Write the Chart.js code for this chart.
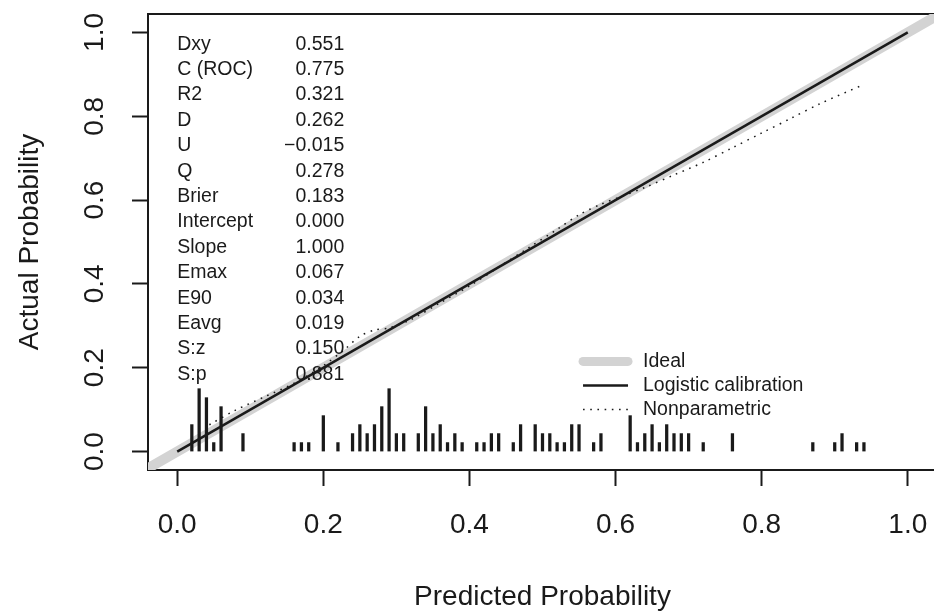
<!DOCTYPE html>
<html>
<head>
<meta charset="utf-8">
<title>Calibration plot</title>
<script src="https://cdn.jsdelivr.net/npm/chart.js@4.4.1/dist/chart.umd.min.js"></script>
<style>
  html, body { margin: 0; padding: 0; background: #fff; overflow: hidden; }
  #wrap { width: 940px; height: 611px; }
</style>
</head>
<body>
<div id="wrap"><canvas id="calChart" width="940" height="611"></canvas></div>
<script>
'use strict';

// ─────────────────────────────────────────────
// DATA
// ─────────────────────────────────────────────
const tickValues = [0, 0.2, 0.4, 0.6, 0.8, 1.0];

// spike histogram of predicted probabilities (bin centre, count)
const spikeX = [0.02, 0.03, 0.04, 0.05, 0.06, 0.09, 0.16, 0.17, 0.18, 0.20,
  0.22, 0.24, 0.25, 0.26, 0.27, 0.28, 0.29, 0.30, 0.31, 0.33,
  0.34, 0.35, 0.36, 0.37, 0.38, 0.39, 0.41, 0.42, 0.43, 0.44,
  0.46, 0.47, 0.49, 0.50, 0.51, 0.52, 0.53, 0.54, 0.55, 0.57,
  0.58, 0.62, 0.63, 0.64, 0.65, 0.66, 0.67, 0.68, 0.69, 0.70,
  0.72, 0.76, 0.87, 0.90, 0.91, 0.93, 0.94];
const spikeCount = [3, 7, 6, 1, 5, 2, 1, 1, 1, 4,
  1, 2, 3, 2, 3, 5, 7, 2, 2, 2,
  5, 2, 3, 1, 2, 1, 1, 1, 2, 2,
  1, 3, 3, 2, 2, 1, 1, 3, 3, 1,
  2, 4, 1, 2, 3, 1, 3, 2, 2, 2,
  1, 2, 1, 1, 2, 1, 1];
const spikeMaxHeight = 0.15;

// ideal and logistic calibration lines
const idealX = [-0.04, 1.04];
const idealY = [-0.04, 1.04];
const logisticX = [0, 1];
const logisticY = [0, 1];

// nonparametric (lowess) calibration curve
const npX = [0.044, 0.08, 0.12, 0.16, 0.20, 0.23, 0.25, 0.27, 0.29, 0.32,
  0.36, 0.40, 0.44, 0.48, 0.52, 0.55, 0.58, 0.61, 0.64, 0.68,
  0.72, 0.76, 0.80, 0.84, 0.88, 0.94];
const npY = [0.064, 0.099, 0.131, 0.163, 0.205, 0.245, 0.275, 0.29, 0.295, 0.315,
  0.355, 0.395, 0.44, 0.485, 0.53, 0.565, 0.59, 0.61, 0.63, 0.66,
  0.69, 0.725, 0.76, 0.795, 0.83, 0.876];

// statistics block
const statNames = ['Dxy', 'C (ROC)', 'R2', 'D', 'U', 'Q', 'Brier', 'Intercept',
  'Slope', 'Emax', 'E90', 'Eavg', 'S:z', 'S:p'];
const statValues = ['0.551', '0.775', '0.321', '0.262', '\u22120.015', '0.278', '0.183',
  '0.000', '1.000', '0.067', '0.034', '0.019', '0.150', '0.881'];

const legendLabels = ['Ideal', 'Logistic calibration', 'Nonparametric'];

// ─────────────────────────────────────────────
// STYLE
// ─────────────────────────────────────────────
const FONT = "'Liberation Sans', Arial, Helvetica, sans-serif";
const INK = '#1a1a1a';
const IDEAL_GREY = '#d3d3d3';
const npDash = [1.6, 5.6];

const toPoints = (xs, ys) => xs.map((x, i) => ({ x, y: ys[i] }));
const unitPerCount = spikeMaxHeight / Math.max(...spikeCount);
const spikePoints = spikeX.map((x, i) => ({ x, y: spikeCount[i] * unitPerCount }));

// ─────────────────────────────────────────────
// ANNOTATIONS — box, stats text, legend
// ─────────────────────────────────────────────
const boxPlugin = {
  id: 'rBox',
  beforeDatasetsDraw(chart) {
    const { ctx, chartArea: a } = chart;
    ctx.save();
    ctx.strokeStyle = INK;
    ctx.lineWidth = 2;
    ctx.strokeRect(a.left, a.top, a.right - a.left, a.bottom - a.top);
    ctx.restore();
  },
};

const textPlugin = {
  id: 'rText',
  afterDatasetsDraw(chart) {
    const { ctx, scales: { x, y } } = chart;
    ctx.save();
    ctx.fillStyle = INK;
    ctx.font = '19.5px ' + FONT;
    ctx.textBaseline = 'middle';

    // stats block, top-left at (0, 0.99)
    const sx = x.getPixelForValue(0);
    const vx = sx + 167;
    let sy = y.getPixelForValue(0.99) + 7.5;
    statNames.forEach((name, i) => {
      ctx.textAlign = 'left';
      ctx.fillText(name, sx, sy);
      ctx.textAlign = 'right';
      ctx.fillText(statValues[i], vx, sy);
      sy += 25.4;
    });

    // legend, top-left at (0.55, 0.27)
    const lx = x.getPixelForValue(0.55) + 4;
    let ly = y.getPixelForValue(0.27) + 23;
    const styles = [
      { color: IDEAL_GREY, width: 9, dash: [], cap: 'round' },
      { color: INK, width: 2.5, dash: [], cap: 'butt' },
      { color: INK, width: 1.5, dash: npDash, cap: 'butt' },
    ];
    legendLabels.forEach((label, i) => {
      const s = styles[i];
      ctx.beginPath();
      ctx.strokeStyle = s.color;
      ctx.lineWidth = s.width;
      ctx.lineCap = s.cap;
      ctx.setLineDash(s.dash);
      ctx.moveTo(lx, ly);
      ctx.lineTo(lx + 45, ly);
      ctx.stroke();
      ctx.setLineDash([]);
      ctx.textAlign = 'left';
      ctx.fillText(label, lx + 60, ly);
      ly += 24;
    });
    ctx.restore();
  },
};

// ─────────────────────────────────────────────
// CHART
// ─────────────────────────────────────────────
(function initChart() {
  const canvas = document.getElementById('calChart');
  if (!canvas || typeof Chart === 'undefined') return;

  const noLabelPadding = (scale) => {
    scale.paddingTop = 0;
    scale.paddingBottom = 0;
    scale.paddingLeft = 0;
    scale.paddingRight = 0;
  };

  const axisCommon = {
    type: 'linear',
    afterBuildTicks: (scale) => { scale.ticks = tickValues.map((v) => ({ value: v })); },
    grid: {
      display: true,
      offset: false,
      drawOnChartArea: false,
      drawTicks: true,
      tickLength: 16,
      tickWidth: 2,
      tickColor: INK,
    },
    border: { display: false },
  };

  new Chart(canvas, {
    type: 'line',
    data: {
      datasets: [
        {
          label: 'Logistic calibration',
          data: toPoints(logisticX, logisticY),
          borderColor: INK,
          borderWidth: 2.5,
          pointRadius: 0,
          order: 1,
        },
        {
          label: 'Nonparametric',
          data: toPoints(npX, npY),
          borderColor: INK,
          borderWidth: 1.5,
          borderDash: npDash,
          tension: 0.3,
          pointRadius: 0,
          order: 2,
        },
        {
          type: 'bar',
          label: 'Distribution',
          data: spikePoints,
          backgroundColor: INK,
          barThickness: 2.6,
          order: 3,
        },
        {
          label: 'Ideal',
          data: toPoints(idealX, idealY),
          borderColor: IDEAL_GREY,
          borderWidth: 10,
          borderCapStyle: 'round',
          pointRadius: 0,
          order: 4,
        },
      ],
    },
    options: {
      responsive: false,
      animation: false,
      devicePixelRatio: 1,
      layout: { padding: { top: 14, right: 3, left: 0, bottom: 0 } },
      plugins: {
        legend: { display: false },
        tooltip: { enabled: false },
      },
      scales: {
        x: {
          ...axisCommon,
          min: -0.04,
          max: 1.04,
          offset: false,
          afterFit: (scale) => { scale.height = 141; noLabelPadding(scale); },
          ticks: {
            font: { family: FONT, size: 28 },
            color: INK,
            padding: 22,
            maxRotation: 0,
            callback: (v) => v.toFixed(1),
          },
          title: {
            display: true,
            text: 'Predicted Probability',
            font: { family: FONT, size: 28 },
            color: INK,
            padding: { top: 0, bottom: -3 },
          },
        },
        y: {
          ...axisCommon,
          min: -0.044,
          max: 1.044,
          afterFit: (scale) => { scale.width = 148; noLabelPadding(scale); },
          ticks: {
            font: { family: FONT, size: 28 },
            color: INK,
            padding: 17,
            minRotation: 90,
            maxRotation: 90,
            crossAlign: 'center',
            callback: (v) => v.toFixed(1),
          },
          title: {
            display: true,
            text: 'Actual Probability',
            font: { family: FONT, size: 28 },
            color: INK,
            padding: { top: 13, bottom: 0 },
          },
        },
      },
    },
    plugins: [boxPlugin, textPlugin],
  });
})();
</script>
</body>
</html>
